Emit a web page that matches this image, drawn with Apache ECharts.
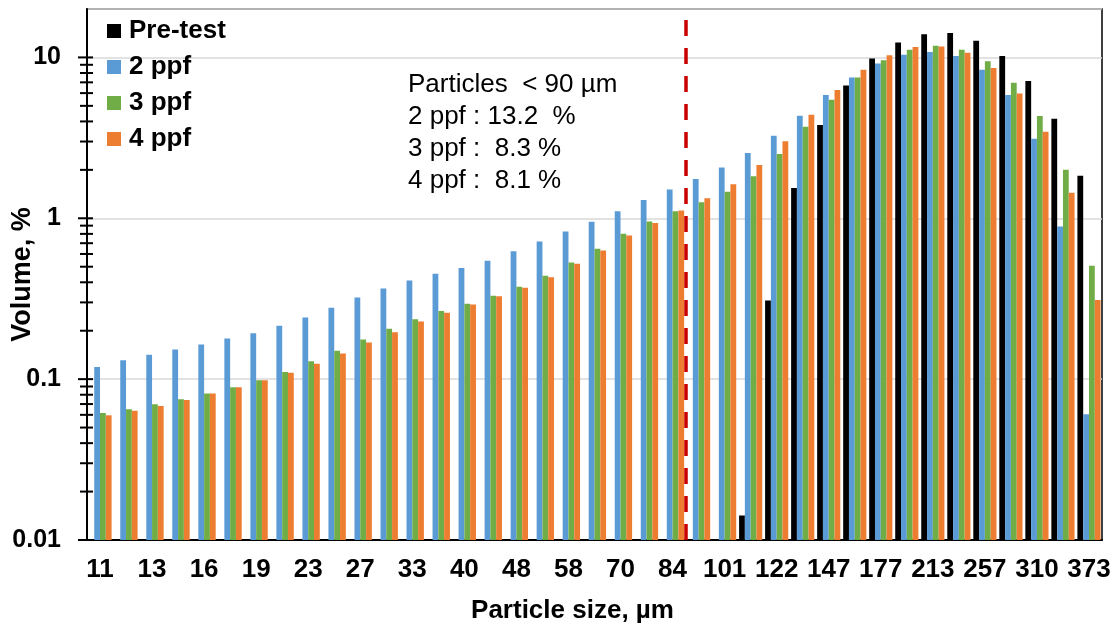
<!DOCTYPE html>
<html><head><meta charset="utf-8">
<script src="https://cdn.jsdelivr.net/npm/echarts@6/dist/echarts.min.js"></script>
<style>html,body{margin:0;padding:0;background:#fff}#c{width:1117px;height:626px}</style>
</head><body><div id="c"></div>
<script>
const categories = ['11','12','13','14','16','17','19','21','23','25','27','30','33','36','40','44','48','53','58','64','70','77','84','92','101','111','122','134','147','161','177','194','213','234','257','282','310','340','373'];
const preTest = [null,null,null,null,null,null,null,null,null,null,null,null,null,null,null,null,null,null,null,null,null,null,null,null,null,0.0142,0.308,1.545,3.80,6.69,9.85,12.4,13.95,14.2,12.7,10.2,7.13,4.16,1.84];
const ppf2 = [0.119,0.131,0.142,0.153,0.164,0.179,0.193,0.215,0.242,0.278,0.322,0.366,0.410,0.452,0.490,0.544,0.624,0.717,0.827,0.950,1.105,1.30,1.51,1.757,2.07,2.55,3.26,4.34,5.83,7.50,9.16,10.4,10.8,10.2,8.38,5.83,3.12,0.888,0.0605];
const ppf3 = [0.0616,0.065,0.0697,0.075,0.0813,0.089,0.0984,0.1107,0.129,0.150,0.1766,0.206,0.236,0.265,0.294,0.330,0.375,0.439,0.531,0.646,0.800,0.954,1.105,1.257,1.464,1.823,2.51,3.71,5.45,7.50,9.62,11.15,11.8,11.15,9.48,6.96,4.32,2.0,0.506];
const ppf4 = [0.0596,0.0636,0.0682,0.0741,0.0813,0.089,0.0984,0.1096,0.1248,0.1446,0.169,0.196,0.2285,0.259,0.291,0.327,0.370,0.430,0.521,0.630,0.781,0.936,1.116,1.331,1.626,2.145,3.01,4.40,6.27,8.38,10.33,11.6,11.7,10.7,8.58,5.97,3.45,1.44,0.311];
const seriesNames = ['Pre-test','2 ppf','3 ppf','4 ppf'];
const yTickLabels = ['0.01','0.1','1','10'];
const majorTicks = [0.01,0.1,1,10];
const minorTicks = [0.02,0.03,0.04,0.05,0.06,0.07,0.08,0.09,0.2,0.3,0.4,0.5,0.6,0.7,0.8,0.9,2,3,4,5,6,7,8,9];
const yMin = 0.01, yMax = 20;
const cutoffPosition = 22.5; // 90 µm: boundary between the 84 and 92 bins
const noteLines = ['Particles  < 90 µm','2 ppf : 13.2  %','3 ppf :  8.3 %','4 ppf :  8.1 %'];

const FONT = '"Liberation Sans", Arial, sans-serif';
const colors = ['#000000','#5B9BD5','#70AD47','#ED7D31'];
const seriesData = [preTest, ppf2, ppf3, ppf4];

const chart = echarts.init(document.getElementById('c'), null, {renderer:'canvas'});
const barSeries = seriesData.map((d, i) => ({
  type:'bar', name: seriesNames[i], data: d, xAxisIndex:0, yAxisIndex:0,
  barGap:'0%', barCategoryGap:'11%',
  itemStyle:{color: colors[i]}
}));

chart.setOption({
  animation:false,
  grid:{left:87, right:15, top:9, bottom:86, show:true, borderColor:'#000', borderWidth:1.5, containLabel:false, outerBoundsMode:'none'},
  legend:{data:seriesNames, orient:'vertical', left:107, top:18, padding:0, itemWidth:14, itemHeight:14, itemGap:10, icon:'rect',
    textStyle:{fontSize:26, fontWeight:'bold', color:'#000', fontFamily:FONT, padding:[0,0,0,3]}},
  xAxis:[{
    type:'category', data:categories,
    axisLine:{lineStyle:{color:'#000', width:2}}, axisTick:{show:false},
    axisLabel:{interval:1, fontSize:26, fontWeight:'bold', color:'#000', fontFamily:FONT, margin:17},
    name:'Particle size, µm', nameLocation:'middle', nameGap:58, nameMoveOverlap:false,
    nameTextStyle:{fontSize:26, fontWeight:'bold', color:'#000', fontFamily:FONT, padding:[0,44,0,0]}
  },{
    type:'value', min:-0.5, max:38.5, show:false
  }],
  yAxis:{
    type:'log', logBase:10, min:yMin, max:yMax, startValue:yMin,
    axisLine:{show:true, onZero:false, lineStyle:{color:'#000', width:2}}, axisTick:{show:false},
    axisLabel:{fontSize:25, fontWeight:'bold', color:'#000', fontFamily:FONT, margin:26,
      formatter: v => { const s = String(+Number(v).toPrecision(3)); return yTickLabels.includes(s) ? s : ''; }},
    splitLine:{show:true, lineStyle:{color:'#D9D9D9', width:1.5}},
    name:'Volume, %', nameLocation:'middle', nameGap:51, nameMoveOverlap:false,
    nameTextStyle:{fontSize:27, fontWeight:'bold', color:'#000', fontFamily:FONT}
  },
  graphic:[{type:'text', left:408, top:69, silent:true,
    style:{text: noteLines.join('\n'), font:'26px ' + FONT, lineHeight:32, fill:'#000'}}],
  series: barSeries.concat([
    {type:'custom', name:'yticks', xAxisIndex:0, yAxisIndex:0, clip:false, silent:true, z:10,
     data: majorTicks.map(v => [0, v, 1]).concat(minorTicks.map(v => [0, v, 0])),
     encode:{x:0, y:1},
     renderItem:(params, api) => {
       const cs = params.coordSys;
       const y = api.coord([0, api.value(1)])[1];
       const major = api.value(2) === 1;
       return {type:'line', shape:{x1: cs.x - (major ? 9 : 7), y1: y, x2: cs.x + 6, y2: y},
               style:{stroke:'#000', lineWidth:2}};
     }},
    {type:'line', name:'cutoff', xAxisIndex:1, yAxisIndex:0, data:[], silent:true,
     markLine:{symbol:'none', silent:true, label:{show:false},
       lineStyle:{color:'#C80000', width:3.5, type:[16,12]},
       data:[[{coord:[cutoffPosition, yMin]},{coord:[cutoffPosition, yMax]}]]}}
  ])
});
</script></body></html>
